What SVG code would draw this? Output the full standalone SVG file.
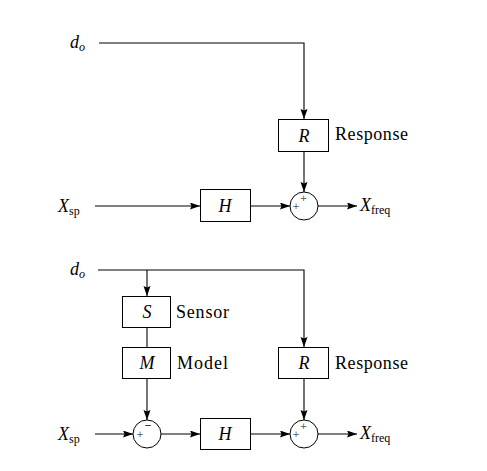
<svg xmlns="http://www.w3.org/2000/svg" width="487" height="471" viewBox="0 0 487 471">
  <style>
    .box { fill: #ffffff; stroke: #000000; stroke-width: 1; }
    .sum { fill: #ffffff; stroke: #000000; stroke-width: 1; }
    .wire { fill: none; stroke: #000000; stroke-width: 1.1; }
    text { font-family: "Liberation Serif", "Times New Roman", serif; fill: #000000; }
    .math { font-style: italic; font-size: 18px; }
    .sub { font-style: normal; font-size: 12px; }
    .subi { font-style: italic; font-size: 12px; }
    .lbl { font-size: 18px; }
    .sign { font-family: "DejaVu Sans", sans-serif; font-size: 9px; fill: #555555; text-anchor: middle; }
    .ctr { text-anchor: middle; }
  </style>
  <defs>
    <marker id="arr" markerUnits="userSpaceOnUse" markerWidth="11" markerHeight="8" refX="10" refY="3.5" orient="auto">
      <path d="M0,0 L10,3.5 L0,7 L1.5,3.5 z" fill="#000000"/>
    </marker>
  </defs>
  <rect width="487" height="471" fill="#ffffff"/>

  <g id="connectors">
    <path class="wire" d="M99,43 H304 V119" marker-end="url(#arr)"/>
    <path class="wire" d="M95,206 H200" marker-end="url(#arr)"/>
    <path class="wire" d="M250,206 H290" marker-end="url(#arr)"/>
    <path class="wire" d="M304,151 V192" marker-end="url(#arr)"/>
    <path class="wire" d="M318,206 H357" marker-end="url(#arr)"/>
    <path class="wire" d="M98,270 H304 V347" marker-end="url(#arr)"/>
    <path class="wire" d="M147,270 V296" marker-end="url(#arr)"/>
    <path class="wire" d="M147,327 V347"/>
    <path class="wire" d="M147,378 V420" marker-end="url(#arr)"/>
    <path class="wire" d="M95,434 H133" marker-end="url(#arr)"/>
    <path class="wire" d="M161,434 H200" marker-end="url(#arr)"/>
    <path class="wire" d="M250,434 H290" marker-end="url(#arr)"/>
    <path class="wire" d="M304,378 V420" marker-end="url(#arr)"/>
    <path class="wire" d="M318,434 H357" marker-end="url(#arr)"/>
  </g>

  <g id="top-do">
    <text class="math" x="70" y="48">d<tspan class="subi" dy="3">o</tspan></text>
  </g>
  <g id="top-xsp">
    <text class="math" x="58" y="212">X<tspan class="sub" dy="3">sp</tspan></text>
  </g>
  <g id="top-R">
    <rect class="box" x="278.5" y="119.5" width="50" height="32"/>
    <text class="math ctr" x="304" y="141.5">R</text>
    <text class="lbl" x="335" y="140" textLength="73" lengthAdjust="spacing">Response</text>
  </g>
  <g id="top-H">
    <rect class="box" x="200.5" y="189.5" width="50" height="32"/>
    <text class="math ctr" x="225" y="211.5">H</text>
  </g>
  <g id="top-sum">
    <circle class="sum" cx="304" cy="206" r="14"/>
    <text class="sign" x="303.5" y="201">+</text>
    <text class="sign" x="296" y="209">+</text>
  </g>
  <g id="top-xfreq">
    <text class="math" x="360" y="211">X<tspan class="sub" dy="3">freq</tspan></text>
  </g>

  <g id="bot-do">
    <text class="math" x="70" y="275">d<tspan class="subi" dy="3">o</tspan></text>
  </g>
  <g id="bot-S">
    <rect class="box" x="122.5" y="296.5" width="48" height="31"/>
    <text class="math ctr" x="147" y="318">S</text>
    <text class="lbl" x="176" y="318" textLength="53" lengthAdjust="spacing">Sensor</text>
  </g>
  <g id="bot-M">
    <rect class="box" x="122.5" y="347.5" width="48" height="31"/>
    <text class="math ctr" x="147" y="369">M</text>
    <text class="lbl" x="177" y="369" textLength="51" lengthAdjust="spacing">Model</text>
  </g>
  <g id="bot-R">
    <rect class="box" x="278.5" y="347.5" width="50" height="31"/>
    <text class="math ctr" x="304" y="369">R</text>
    <text class="lbl" x="335" y="369" textLength="73" lengthAdjust="spacing">Response</text>
  </g>
  <g id="bot-xsp">
    <text class="math" x="58" y="440">X<tspan class="sub" dy="3">sp</tspan></text>
  </g>
  <g id="bot-sum1">
    <circle class="sum" cx="147" cy="434" r="14"/>
    <text class="sign" x="148" y="428" style="fill:#000000">−</text>
    <text class="sign" x="140" y="437">+</text>
  </g>
  <g id="bot-H">
    <rect class="box" x="200.5" y="418.5" width="50" height="31"/>
    <text class="math ctr" x="225" y="440">H</text>
  </g>
  <g id="bot-sum2">
    <circle class="sum" cx="304" cy="434" r="14"/>
    <text class="sign" x="303.5" y="429">+</text>
    <text class="sign" x="296" y="437">+</text>
  </g>
  <g id="bot-xfreq">
    <text class="math" x="360" y="439">X<tspan class="sub" dy="3">freq</tspan></text>
  </g>
</svg>
